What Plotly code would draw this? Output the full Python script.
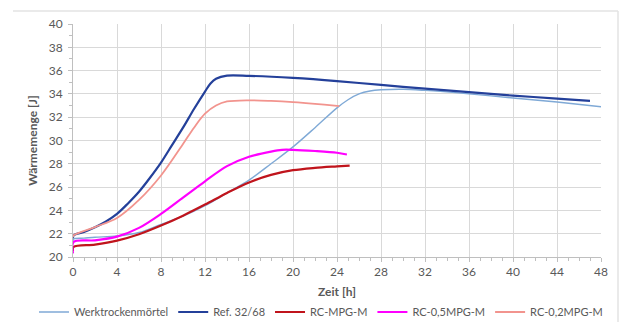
import plotly.graph_objects as go

# ---- data ----
werk_t = [0, 0.05, 1, 2, 4, 6, 8, 10, 12, 14, 16, 18, 20, 22, 24, 25, 26, 27, 28, 30, 32, 36, 40, 44, 48]
werk_v = [21.3, 21.55, 21.62, 21.7, 21.8, 22.1, 22.8, 23.5, 24.4, 25.5, 26.6, 28.0, 29.45, 31.1, 32.8, 33.5, 34.0, 34.25, 34.35, 34.4, 34.3, 34.0, 33.65, 33.3, 32.9]

ref_t = [0, 0.05, 1, 2, 3, 4, 5, 6, 7, 8, 9, 10, 11, 12, 12.5, 13, 14, 16, 20, 24, 28, 32, 36, 40, 44, 47]
ref_v = [21.6, 21.85, 22.15, 22.55, 23.05, 23.7, 24.6, 25.6, 26.8, 28.1, 29.6, 31.1, 32.7, 34.2, 34.9, 35.3, 35.57, 35.55, 35.37, 35.1, 34.77, 34.45, 34.15, 33.85, 33.6, 33.4]

rc_t = [0, 0.05, 2, 4, 6, 8, 10, 12, 14, 16, 18, 20, 22, 24, 25.15]
rc_v = [20.5, 20.86, 21.06, 21.4, 21.95, 22.7, 23.55, 24.5, 25.5, 26.4, 27.05, 27.45, 27.65, 27.78, 27.85]

rc05_t = [0, 0.05, 2, 4, 6, 8, 10, 12, 14, 16, 18, 19, 20, 22, 24, 24.9]
rc05_v = [20.3, 21.3, 21.43, 21.75, 22.5, 23.7, 25.1, 26.5, 27.8, 28.6, 29.05, 29.2, 29.2, 29.1, 28.95, 28.8]

rc02_t = [0, 0.05, 2, 4, 6, 8, 10, 11, 12, 13, 14, 16, 18, 20, 22, 24, 24.2]
rc02_v = [21.7, 21.86, 22.57, 23.35, 24.9, 27.0, 29.7, 31.1, 32.3, 33.0, 33.35, 33.45, 33.4, 33.3, 33.15, 32.97, 32.95]

series = [
    ("Werktrockenmörtel", werk_t, werk_v, "#7fa9d6", 1.4),
    ("Ref. 32/68", ref_t, ref_v, "#24409a", 2.2),
    ("RC-MPG-M", rc_t, rc_v, "#c0141c", 2.2),
    ("RC-0,5MPG-M", rc05_t, rc05_v, "#ff00ff", 2.2),
    ("RC-0,2MPG-M", rc02_t, rc02_v, "#f2948e", 1.8),
]

x_ticks = list(range(0, 49, 4))
y_ticks = list(range(20, 41, 2))

W, H = 619, 322
ML, MR, MT, MB = 73, 18, 24, 65
PW, PH = W - ML - MR, H - MT - MB

def px2x(px):
    return (px - ML) / PW

def py2y(py):
    return 1 - (py - MT) / PH

fig = go.Figure()
for name, t, v, col, lw in series:
    fig.add_trace(go.Scatter(x=t, y=v, mode="lines", name=name,
                             line=dict(color=col, width=lw, shape="spline", smoothing=0.9)))

font_family = "Lato, 'Open Sans', sans-serif"
tick_col = "#595959"
grid_col = "#d9d9d9"

fig.update_xaxes(range=[0, 48], tickvals=x_ticks, showgrid=True, gridcolor=grid_col, gridwidth=1,
                 showline=True, linecolor="#bfbfbf", linewidth=1, zeroline=False,
                 ticks="outside", ticklen=4, tickcolor="#bfbfbf",
                 minor=dict(dtick=1, ticks="outside", ticklen=3, tickcolor="#bfbfbf", showgrid=False),
                 tickfont=dict(family=font_family, size=12, color=tick_col),
                 title=dict(text="<b>Zeit [h]</b>", font=dict(family=font_family, size=12, color=tick_col), standoff=9))
fig.update_yaxes(range=[20, 40], tickvals=y_ticks, showgrid=True, gridcolor=grid_col, gridwidth=1,
                 showline=True, linecolor="#bfbfbf", linewidth=1, zeroline=False,
                 ticks="outside", ticklen=4, tickcolor="#bfbfbf",
                 minor=dict(dtick=1, ticks="outside", ticklen=3, tickcolor="#bfbfbf", showgrid=False),
                 tickfont=dict(family=font_family, size=12, color=tick_col), ticklabelstandoff=3,
                 title=dict(text="<b>Wärmemenge [J]</b>", font=dict(family=font_family, size=12, color=tick_col), standoff=8))

# light chart frame (top and right border)
fig.add_shape(type="line", xref="paper", yref="paper", x0=px2x(13), x1=px2x(618), y0=py2y(11), y1=py2y(11),
              line=dict(color="#e3e3e3", width=1.5))
fig.add_shape(type="line", xref="paper", yref="paper", x0=px2x(618), x1=px2x(618), y0=py2y(11), y1=py2y(330),
              line=dict(color="#e3e3e3", width=1.5))

fig.update_layout(
    width=W, height=H,
    margin=dict(l=ML, r=MR, t=MT, b=MB, autoexpand=False),
    paper_bgcolor="white", plot_bgcolor="white",
    showlegend=True,
    legend=dict(orientation="h", x=px2x(34), xanchor="left",
                y=py2y(312), yanchor="middle", font=dict(family=font_family, size=11, color=tick_col),
                itemwidth=30, bgcolor="rgba(0,0,0,0)"),
)

fig.write_html("out.html")
